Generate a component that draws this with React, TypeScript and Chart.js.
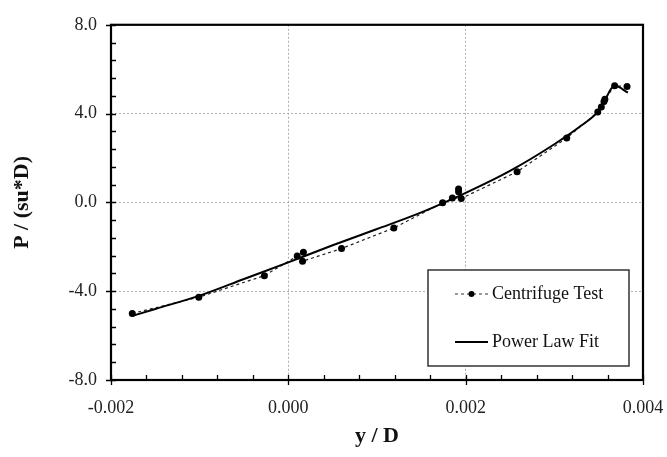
import React, { useEffect, useRef } from "react";
import { Chart, registerables } from "chart.js";

Chart.register(...registerables);

// Centrifuge test points (connected by the dashed line)
const testX = [-0.00176, -0.00101, -0.00027, 0.0001, 0.00016, 0.0006, 0.00119, 0.00174, 0.00185, 0.00195, 0.00258, 0.00314, 0.00349, 0.00353, 0.00356, 0.00357, 0.00368, 0.00382];
const testY = [-5.0, -4.27, -3.3, -2.42, -2.65, -2.08, -1.15, -0.02, 0.2, 0.18, 1.38, 2.9, 4.07, 4.3, 4.55, 4.65, 5.25, 5.22];

// Extra centrifuge test markers lying off the dashed line
const extraX = [0.00017, 0.00192, 0.00192];
const extraY = [-2.25, 0.6, 0.48];

// Power law fit
const fitX = [-0.00175, -0.0015, -0.001, -0.0005, 0, 0.0005, 0.001, 0.0015, 0.002, 0.0025, 0.003, 0.0033, 0.0035, 0.00355, 0.00368, 0.00383];
const fitY = [-5.1, -4.8, -4.2, -3.45, -2.7, -1.93, -1.2, -0.45, 0.43, 1.42, 2.62, 3.45, 4.12, 4.45, 5.25, 4.95];

// Axis ticks
const xTicks = [-0.002, 0, 0.002, 0.004];
const yTicks = [-8, -4, 0, 4, 8];

const seriesNames = ["Centrifuge Test", "Power Law Fit"];

const SERIF = "'Liberation Serif', 'Times New Roman', serif";

const framePlugin = {
  id: "frame",
  afterDatasetsDraw(chart: any) {
    const { ctx, chartArea: a, scales } = chart;
    const xs = scales.x;
    const ys = scales.y;
    ctx.save();
    // ticks
    ctx.strokeStyle = "#000";
    ctx.lineWidth = 1.3;
    ctx.beginPath();
    for (let i = 0; i < xTicks.length; i++) {
      const px = Math.round(xs.getPixelForValue(xTicks[i])) + 0.5;
      ctx.moveTo(px, a.bottom + 5);
      ctx.lineTo(px, a.bottom - 5);
      if (i < xTicks.length - 1) {
        for (let k = 1; k < 5; k++) {
          const v = xTicks[i] + ((xTicks[i + 1] - xTicks[i]) * k) / 5;
          const p = Math.round(xs.getPixelForValue(v)) + 0.5;
          ctx.moveTo(p, a.bottom);
          ctx.lineTo(p, a.bottom - 5);
        }
      }
    }
    for (let i = 0; i < yTicks.length; i++) {
      const py = Math.round(ys.getPixelForValue(yTicks[i])) + 0.5;
      ctx.moveTo(a.left - 5, py);
      ctx.lineTo(a.left + 5, py);
      if (i < yTicks.length - 1) {
        for (let k = 1; k < 5; k++) {
          const v = yTicks[i] + ((yTicks[i + 1] - yTicks[i]) * k) / 5;
          const p = Math.round(ys.getPixelForValue(v)) + 0.5;
          ctx.moveTo(a.left, p);
          ctx.lineTo(a.left + 5, p);
        }
      }
    }
    ctx.stroke();
    // frame
    ctx.lineWidth = 2.2;
    ctx.strokeRect(a.left, a.top, a.right - a.left, a.bottom - a.top);

    // legend box
    const bw = 201;
    const bh = 96;
    const bx = a.right - 14 - bw;
    const by = a.bottom - 14 - bh;
    ctx.fillStyle = "#fff";
    ctx.fillRect(bx, by, bw, bh);
    ctx.strokeStyle = "#333";
    ctx.lineWidth = 1.5;
    ctx.strokeRect(bx, by, bw, bh);

    const lx0 = bx + 27;
    const lx1 = bx + 60;
    const y1 = by + 24;
    const y2 = by + 72;
    // entry 1
    ctx.strokeStyle = "#333";
    ctx.lineWidth = 1;
    ctx.setLineDash([3, 3]);
    ctx.beginPath();
    ctx.moveTo(lx0, y1);
    ctx.lineTo(lx1, y1);
    ctx.stroke();
    ctx.setLineDash([]);
    ctx.fillStyle = "#000";
    ctx.beginPath();
    ctx.arc((lx0 + lx1) / 2, y1, 3, 0, Math.PI * 2);
    ctx.fill();
    // entry 2
    ctx.strokeStyle = "#000";
    ctx.lineWidth = 2;
    ctx.beginPath();
    ctx.moveTo(lx0, y2);
    ctx.lineTo(lx1, y2);
    ctx.stroke();

    ctx.fillStyle = "#111";
    ctx.font = `18px ${SERIF}`;
    ctx.textAlign = "left";
    ctx.textBaseline = "middle";
    ctx.fillText(seriesNames[0], lx1 + 4, y1);
    ctx.fillText(seriesNames[1], lx1 + 4, y2);
    ctx.restore();
  },
};

export default function App() {
  const ref = useRef<HTMLCanvasElement>(null);

  useEffect(() => {
    document.body.style.margin = "0";
    const canvas = ref.current;
    if (!canvas) return;
    const chart = new Chart(canvas, {
      type: "line",
      data: {
        datasets: [
          {
            label: seriesNames[1],
            data: fitX.map((x, i) => ({ x, y: fitY[i] })),
            borderColor: "#000",
            borderWidth: 2,
            pointRadius: 0,
            cubicInterpolationMode: "monotone",
            fill: false,
            order: 0,
          } as any,
          {
            label: seriesNames[0],
            data: testX.map((x, i) => ({ x, y: testY[i] })),
            borderColor: "#222",
            borderWidth: 1.2,
            borderDash: [3, 3],
            pointRadius: 3.5,
            pointBackgroundColor: "#000",
            pointBorderWidth: 0,
            fill: false,
            order: 1,
          },
          {
            label: "extra",
            data: extraX.map((x, i) => ({ x, y: extraY[i] })),
            showLine: false,
            pointRadius: 3.5,
            pointBackgroundColor: "#000",
            pointBorderWidth: 0,
            order: 2,
          },
        ],
      },
      options: {
        animation: false,
        responsive: false,
        devicePixelRatio: 1,
        layout: { padding: { left: 0, right: 24, top: 18, bottom: 0 } },
        plugins: { legend: { display: false }, tooltip: { enabled: false } },
        scales: {
          x: {
            type: "linear",
            min: -0.002,
            max: 0.004,
            afterBuildTicks: (s: any) => {
              s.ticks = xTicks.map((v) => ({ value: v }));
            },
            afterFit: (s: any) => {
              s.height = 77;
              s.paddingLeft = 0;
              s.paddingRight = 0;
            },
            grid: { color: "#b0b0b0", lineWidth: 1, drawTicks: false },
            border: { display: false, dash: [2, 2] },
            ticks: {
              padding: 17,
              color: "#222",
              font: { family: SERIF, size: 18 },
              maxRotation: 0,
              callback: (v: any) => Number(v).toFixed(3),
            },
            title: {
              display: true,
              text: "y / D",
              color: "#111",
              font: { family: SERIF, size: 22, weight: "bold" },
              padding: { top: 4, bottom: 7 },
            },
          },
          y: {
            type: "linear",
            min: -8,
            max: 8,
            afterBuildTicks: (s: any) => {
              s.ticks = yTicks.map((v) => ({ value: v }));
            },
            afterFit: (s: any) => {
              s.width = 111;
            },
            grid: { color: "#b0b0b0", lineWidth: 1, drawTicks: false },
            border: { display: false, dash: [2, 2] },
            ticks: {
              padding: 14,
              color: "#222",
              font: { family: SERIF, size: 18 },
              callback: (v: any) => Number(v).toFixed(1),
            },
            title: {
              display: true,
              text: "P / (su*D)",
              color: "#111",
              font: { family: SERIF, size: 22, weight: "bold" },
              padding: { top: 9, bottom: 4 },
            },
          },
        },
      },
      plugins: [framePlugin],
    });
    return () => chart.destroy();
  }, []);

  return (
    <div style={{ width: 667, height: 457 }}>
      <canvas ref={ref} width={667} height={457} style={{ display: "block" }} />
    </div>
  );
}
